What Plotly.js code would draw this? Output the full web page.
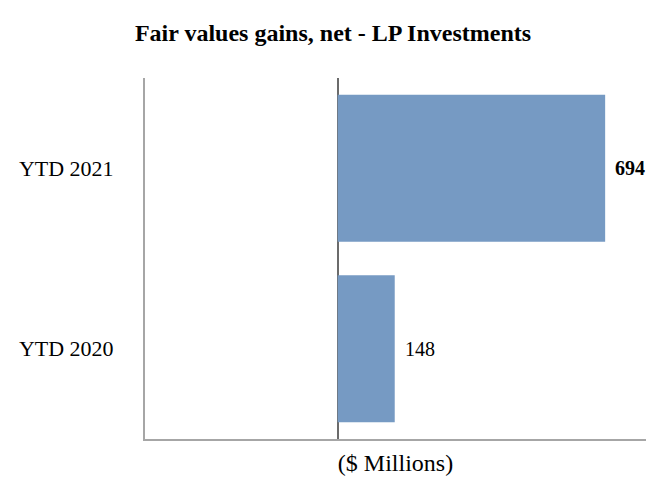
<!DOCTYPE html>
<html>
<head>
<meta charset="utf-8">
<script src="https://cdn.plot.ly/plotly-3.0.1.min.js"></script>
<style>
  html, body { margin: 0; padding: 0; background: #ffffff; }
  #chart { width: 666px; height: 496px; }
</style>
</head>
<body>
<div id="chart"></div>
<script>
// values
const periods = ["YTD 2020", "YTD 2021"];
const gains = [148, 694];
const boldLabel = [false, true];

const serif = '"Liberation Serif", "Times New Roman", serif';

const bars = {
    type: 'bar',
    orientation: 'h',
    y: periods,
    x: gains,
    marker: { color: '#769ac3' },
    hoverinfo: 'x+y'
};

// value labels next to bar ends
const labels = gains.map(function(v, i) {
    return {
        x: v, y: periods[i],
        xref: 'x', yref: 'y',
        text: boldLabel[i] ? '<b>' + v + '</b>' : String(v),
        showarrow: false,
        xanchor: 'left',
        xshift: 8,
        font: { family: serif, size: 20, color: '#000000' }
    };
});

const layout = {
    width: 666,
    height: 496,
    margin: { l: 145, r: 20, t: 78, b: 57 },
    paper_bgcolor: '#ffffff',
    plot_bgcolor: '#ffffff',
    font: { family: serif, size: 20, color: '#000000' },
    showlegend: false,
    bargap: 0.186,
    title: {
        text: '<b>Fair values gains, net - LP Investments</b>',
        font: { family: serif, size: 24, color: '#000000' },
        x: 0.5, xref: 'container', xanchor: 'center',
        y: 0.935, yref: 'container', yanchor: 'middle'
    },
    xaxis: {
        range: [-500, 800],
        showgrid: false,
        showticklabels: false,
        ticks: '',
        zeroline: true,
        zerolinecolor: '#6b6b6b',
        zerolinewidth: 2,
        showline: true,
        linecolor: '#a6a6a6',
        linewidth: 2,
        fixedrange: true,
        title: {
            text: '($ Millions)',
            font: { family: serif, size: 24, color: '#000000' },
            standoff: 14
        }
    },
    yaxis: {
        showgrid: false,
        ticks: '',
        showline: true,
        linecolor: '#a6a6a6',
        linewidth: 2,
        ticklabelstandoff: 25,
        fixedrange: true,
        tickfont: { family: serif, size: 22, color: '#000000' }
    },
    annotations: labels
};

Plotly.newPlot('chart', [bars], layout, { displayModeBar: false, staticPlot: true });
</script>
</body>
</html>
